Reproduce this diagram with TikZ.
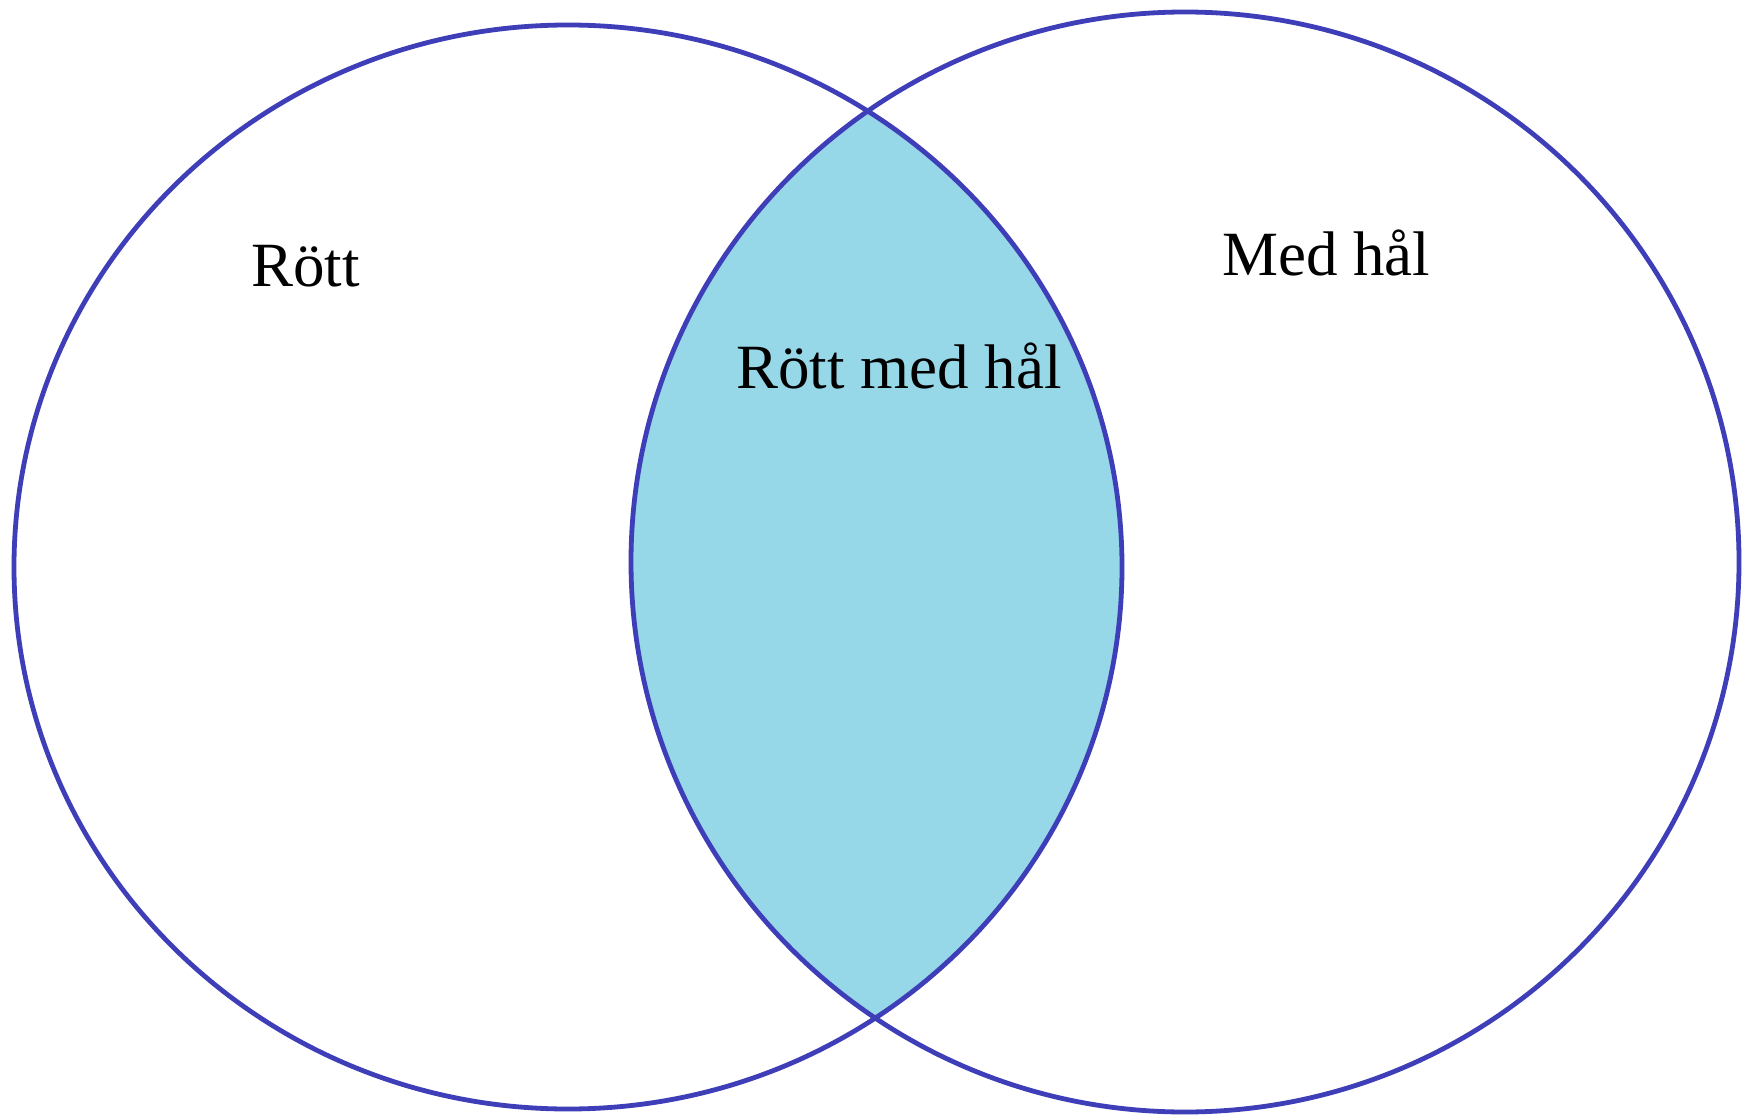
\documentclass[tikz,border=0pt]{standalone}
\usepackage{fontspec}
\setmainfont{Liberation Serif}
\definecolor{ringblue}{RGB}{62,62,184}
\definecolor{lensfill}{RGB}{150,215,232}
\tikzset{
  ring/.style={draw=ringblue, line width=4.8pt},
  lbl/.style={anchor=base west, inner sep=0pt, font=\fontsize{63}{72}\selectfont}
}
\begin{document}
\begin{tikzpicture}[x=1pt,y=-1pt]
\useasboundingbox (0,0) rectangle (1742,1118);
\fill[white] (0,0) rectangle (1742,1118);
\begin{scope}
  \clip (568,567) ellipse [x radius=554, y radius=542];
  \fill[lensfill] (1185,562) ellipse [x radius=554, y radius=550];
\end{scope}
\draw[ring] (568,567) ellipse [x radius=554, y radius=542];
\draw[ring] (1185,562) ellipse [x radius=554, y radius=550];
\node[lbl] (rott) at (251,286) {Rött};
\node[lbl] (both) at (736,388) {Rött med hål};
\node[lbl] (hal) at (1222,275) {Med hål};
\end{tikzpicture}
\end{document}
